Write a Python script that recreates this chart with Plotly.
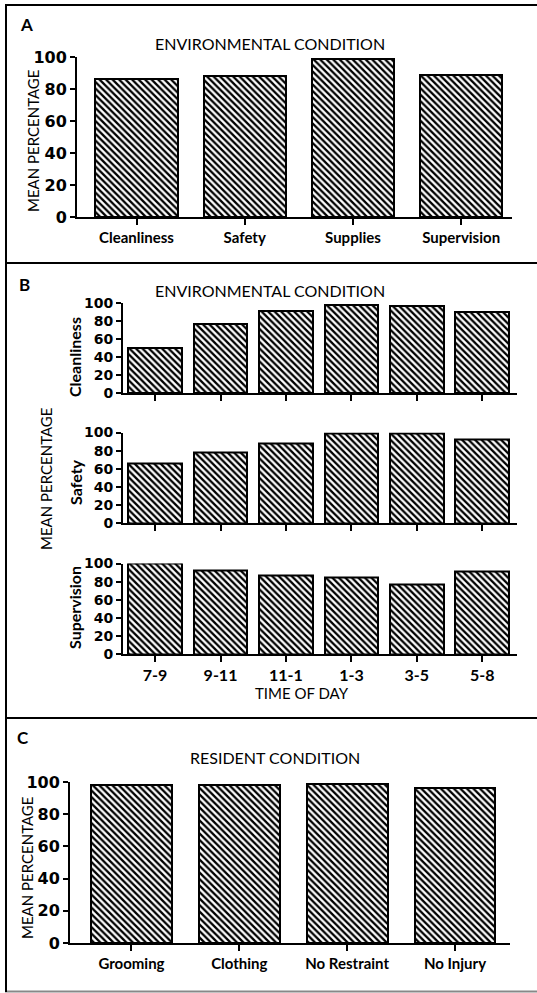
import plotly.graph_objects as go

# ---------------- data ----------------
a_categories = ["Cleanliness", "Safety", "Supplies", "Supervision"]
a_values = [86, 88, 99, 89]

b_times = ["7-9", "9-11", "11-1", "1-3", "3-5", "5-8"]
b_cleanliness = [50, 77, 91, 98, 97, 90]
b_safety = [66, 78, 88, 99, 99, 92]
b_supervision = [100, 92, 87, 84, 77, 91]

c_categories = ["Grooming", "Clothing", "No Restraint", "No Injury"]
c_values = [98, 98, 99, 96]

y_ticks = [0, 20, 40, 60, 80, 100]

# ---------------- geometry helpers ----------------
W, H = 537, 993
FONT = "Lato"
NUMFONT = "DejaVu Sans"


def px_x(p):
    return p / W


def px_y(p):
    return 1 - p / H


pattern = dict(shape="\\", fgcolor="black", bgcolor="white", size=4.6,
               solidity=0.5, fillmode="replace")


def bar(x, y, width, xa, ya):
    return go.Bar(x=list(range(len(x))), y=y, width=width, xaxis=xa, yaxis=ya,
                  marker=dict(color="white", pattern=pattern,
                              line=dict(color="black", width=2)),
                  showlegend=False, hoverinfo="x+y")


fig = go.Figure()
fig.add_trace(bar(a_categories, a_values, 0.76, "x", "y"))
fig.add_trace(bar(b_times, b_cleanliness, 0.82, "x2", "y2"))
fig.add_trace(bar(b_times, b_safety, 0.82, "x3", "y3"))
fig.add_trace(bar(b_times, b_supervision, 0.82, "x4", "y4"))
fig.add_trace(bar(c_categories, c_values, 0.75, "x5", "y5"))


def xaxis(domain, rng, labels, show_labels, anchor, size):
    return dict(domain=domain, range=rng, anchor=anchor, automargin=False,
                tickmode="array", tickvals=list(range(len(labels))),
                ticktext=labels if show_labels else [""] * len(labels),
                showticklabels=show_labels,
                showline=True, linecolor="black", linewidth=2,
                ticks="outside", ticklen=6, tickwidth=2, tickcolor="black",
                showgrid=False, zeroline=False, fixedrange=True,
                tickfont=dict(family=FONT, size=size, color="black", weight="bold"))


def yaxis(domain, anchor, size):
    return dict(domain=domain, range=[0, 100], anchor=anchor, automargin=False,
                tickmode="array", tickvals=y_ticks,
                showline=True, linecolor="black", linewidth=2,
                ticks="outside", ticklen=5, tickwidth=2, tickcolor="black",
                showgrid=False, zeroline=False, fixedrange=True,
                tickfont=dict(family=NUMFONT, size=size, color="black", weight="bold"))


layout = dict(
    template="none",
    width=W, height=H, margin=dict(l=0, r=0, t=0, b=0, pad=0, autoexpand=False),
    paper_bgcolor="white", plot_bgcolor="white",
    font=dict(family=FONT, color="black"),
    bargap=0,
)

# Panel A
layout["xaxis"] = xaxis([px_x(77), px_x(512)], [-0.55, 3.47], a_categories, True, "y", 15)
layout["yaxis"] = yaxis([px_y(217), px_y(57)], "x", 16)
# Panel B
bx = [px_x(123), px_x(517)]
brange = [-0.49, 5.53]
layout["xaxis2"] = xaxis(bx, brange, b_times, False, "y2", 16)
layout["yaxis2"] = yaxis([px_y(393), px_y(303)], "x2", 14)
layout["xaxis3"] = xaxis(bx, brange, b_times, False, "y3", 16)
layout["yaxis3"] = yaxis([px_y(523), px_y(432.5)], "x3", 14)
layout["xaxis4"] = xaxis(bx, brange, b_times, True, "y4", 16)
layout["yaxis4"] = yaxis([px_y(654), px_y(563.5)], "x4", 14)
# Panel C
layout["xaxis5"] = xaxis([px_x(70), px_x(510)], [-0.57, 3.51], c_categories, True, "y5", 15)
layout["yaxis5"] = yaxis([px_y(943), px_y(782)], "x5", 16)

fig.update_layout(**layout)


def note(text, x, y, size, bold=False, angle=0):
    fig.add_annotation(text=text, x=px_x(x), y=px_y(y), xref="paper", yref="paper",
                       showarrow=False, textangle=angle, xanchor="center", yanchor="middle",
                       font=dict(family=FONT, size=size, color="black",
                                 weight="bold" if bold else "normal"))


# Panel letters
note("A", 26, 24, 17, bold=True)
note("B", 24, 285, 17, bold=True)
note("C", 23, 737, 17, bold=True)

# Titles
note("ENVIRONMENTAL CONDITION", 270, 43, 16)
note("ENVIRONMENTAL CONDITION", 270, 290, 16)
note("RESIDENT CONDITION", 275, 757, 16)
note("TIME OF DAY", 302, 693, 15)

# Axis titles
note("MEAN PERCENTAGE", 33, 141, 15, angle=-90)
note("MEAN PERCENTAGE", 46, 479, 15, angle=-90)
note("MEAN PERCENTAGE", 27, 868, 15, angle=-90)
note("Cleanliness", 74, 357, 16, bold=True, angle=-90)
note("Safety", 75, 482, 16, bold=True, angle=-90)
note("Supervision", 74, 608, 16, bold=True, angle=-90)


# Panel frames
def hline(y, x0=5, x1=537, color="black", width=2):
    fig.add_shape(type="line", xref="paper", yref="paper",
                  x0=px_x(x0), x1=px_x(x1), y0=px_y(y), y1=px_y(y),
                  line=dict(color=color, width=width))


hline(5)
hline(263)
hline(718)
hline(991.5, color="#888888", width=2)
fig.add_shape(type="line", xref="paper", yref="paper",
              x0=px_x(6), x1=px_x(6), y0=px_y(4), y1=px_y(992),
              line=dict(color="black", width=2))

fig.write_html(
    "out.html",
    config={"displayModeBar": False},
    post_script=(
        "var gd=document.getElementById('{plot_id}');"
        "gd.style.position='fixed';gd.style.top='0px';gd.style.left='0px';"
        "document.body.style.margin='0';document.body.style.padding='0';"
        "document.documentElement.style.overflow='hidden';"
        "document.body.style.overflow='hidden';"
    ),
)
